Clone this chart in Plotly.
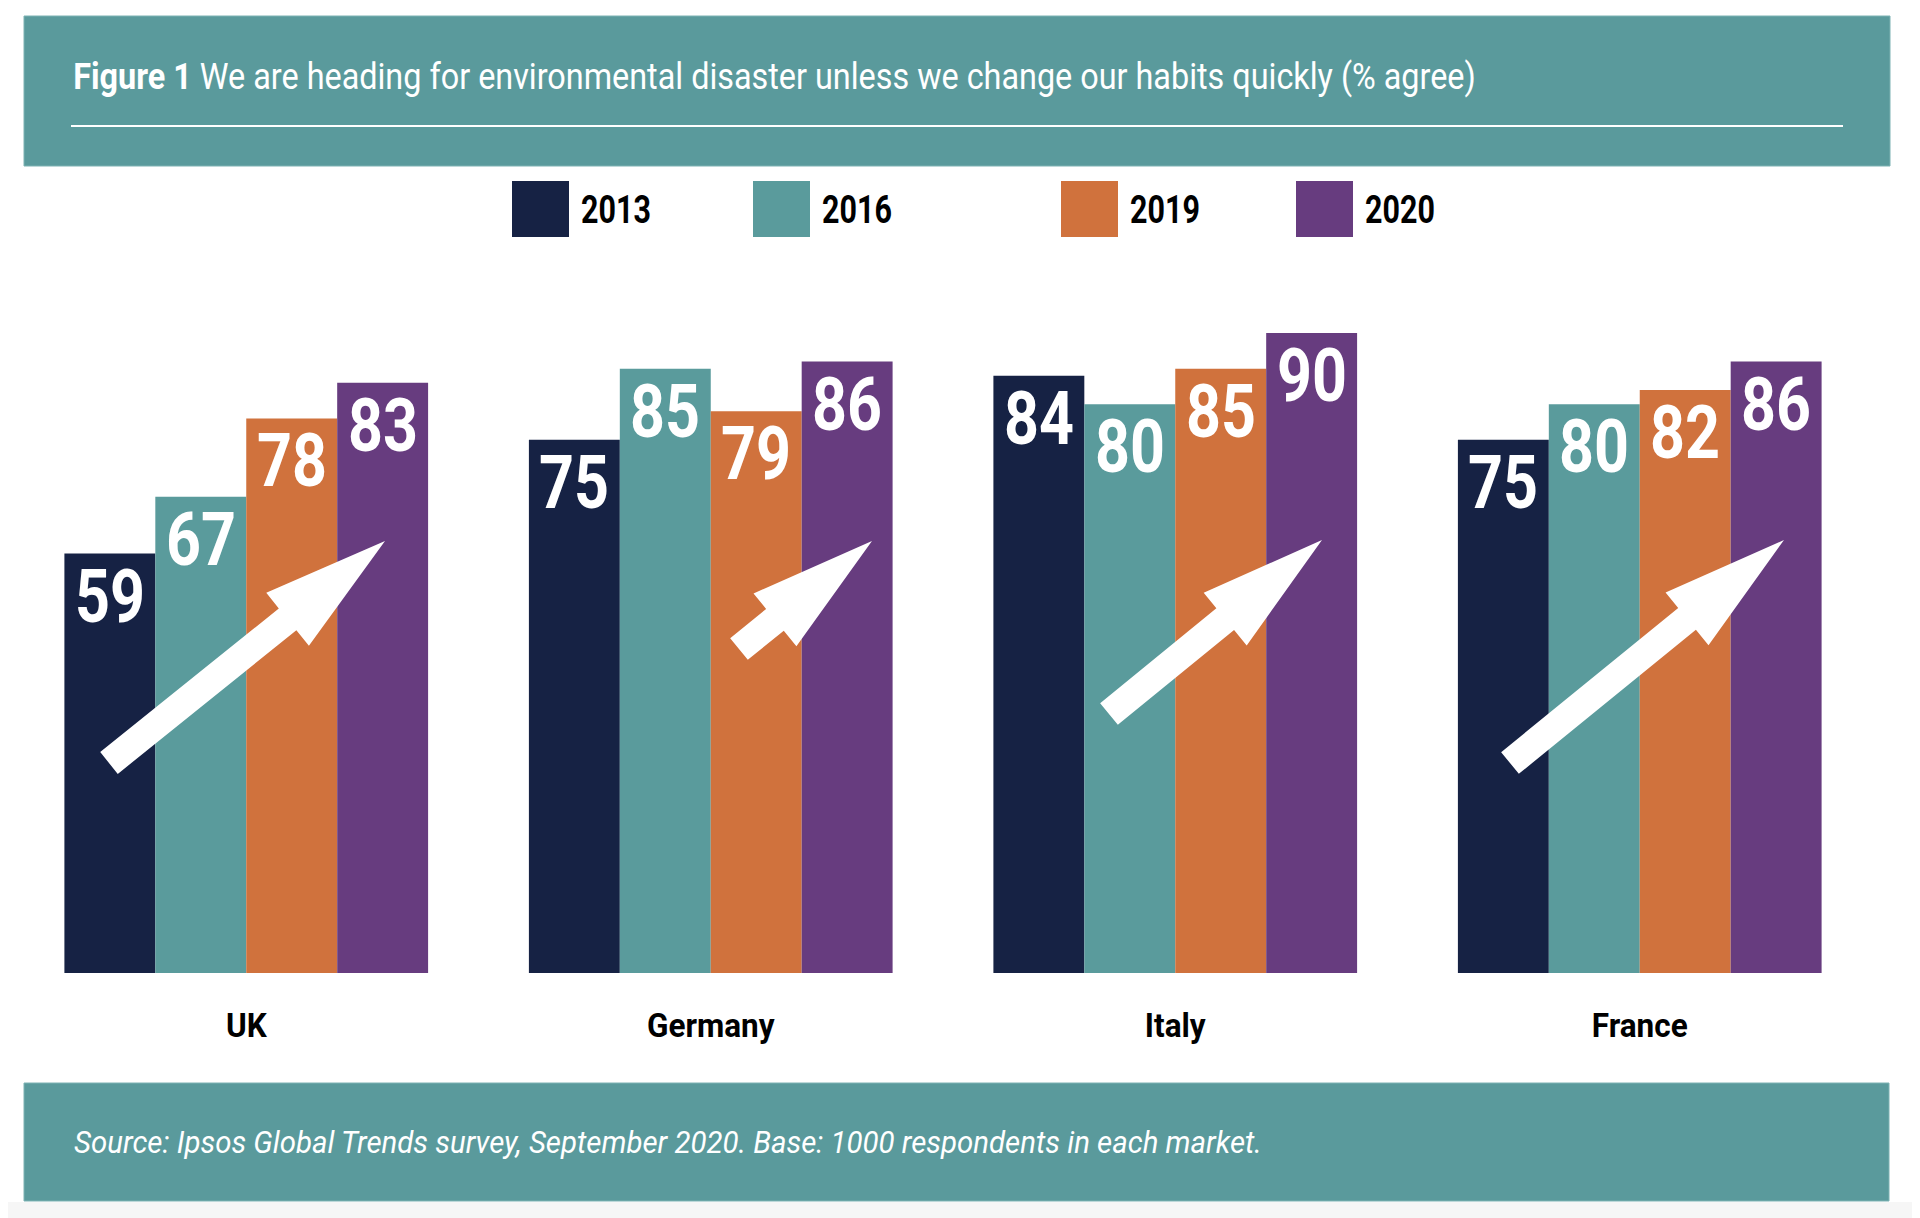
import json
import math
import plotly.graph_objects as go

# ---------------- data ----------------
countries = ["UK", "Germany", "Italy", "France"]
years = ["2013", "2016", "2019", "2020"]
v2013 = [59, 75, 84, 75]
v2016 = [67, 85, 80, 80]
v2019 = [78, 79, 85, 82]
v2020 = [83, 86, 90, 86]
series = [v2013, v2016, v2019, v2020]

title_bold = "Figure 1"
title_rest = "We are heading for environmental disaster unless we change our habits quickly (% agree)"
source_text = "Source: Ipsos Global Trends survey, September 2020. Base: 1000 respondents in each market."

# ---------------- styles / layout ----------------
colors = ["#162244", "#5A9B9C", "#D0723D", "#673C7F"]
TEAL = "#5A9A9C"
TEAL_EDGE = "#7DB2B3"
FONT = "Roboto, Liberation Sans, Arial, sans-serif"

W, H = 1920, 1218
OFF = 8                                # page body margin: screen px -> figure px
L, R, T, B = 14 - OFF, 1872 - OFF, 262 - OFF, 973 - OFF   # plot area (figure px)
YMAX = 100
BARGAP = 0.217
NSER = len(series)
BW = (1 - BARGAP) / NSER

# condensed look: target text widths (px) per text class, used to squeeze text horizontally
SQUEEZE_TARGET = {"value": 70.0, "legend": 70.0, "title": 1403.0, "source": 1188.0, "tick": 128.0}


def px2paper(sx, sy):
    px, py = sx - OFF, sy - OFF
    return (px - L) / (R - L), (B - py) / (B - T)


def px2data(sx, sy):
    px, py = sx - OFF, sy - OFF
    return -0.5 + (px - L) / (R - L) * len(countries), (B - py) / (B - T) * YMAX


fig = go.Figure()
for k, (yr, vals) in enumerate(zip(years, series)):
    fig.add_trace(go.Bar(
        x=list(range(len(countries))), y=vals, name=yr,
        marker=dict(color=colors[k], line=dict(width=0)),
        showlegend=False, hoverinfo="x+y",
    ))

annotations = []
ann_class = []   # [class, anchor-mode] per annotation
shapes = []

# value labels
for k, vals in enumerate(series):
    for i, v in enumerate(vals):
        annotations.append(dict(
            x=i + (k - (NSER - 1) / 2) * BW, y=v, xref="x", yref="y",
            text=str(v), showarrow=False, xanchor="center", yanchor="top",
            yshift=4,
            font=dict(family=FONT, size=75, color="white", weight="bold"),
        ))
        ann_class.append(["value", "center"])


def rect_px(x0, y0, x1, y1, color, layer="below", edge=None):
    a0, b0 = px2paper(x0, y0)
    a1, b1 = px2paper(x1, y1)
    line = dict(width=1, color=edge) if edge else dict(width=0)
    return dict(type="rect", xref="paper", yref="paper", x0=a0, y0=b1, x1=a1, y1=b0,
                fillcolor=color, line=line, layer=layer)


# page strip, banners (screen px)
shapes.append(rect_px(0, 1202, 1930, 1240, "#F6F6F6"))
shapes.append(rect_px(24, 16, 1890, 166, TEAL, edge=TEAL_EDGE))
shapes.append(rect_px(24, 1083, 1889, 1201, TEAL, edge=TEAL_EDGE))
ux0, uy = px2paper(71, 126)
ux1, _ = px2paper(1843, 126)
shapes.append(dict(type="line", xref="paper", yref="paper", x0=ux0, x1=ux1, y0=uy, y1=uy,
                   line=dict(color="white", width=2), layer="above"))

# title
tx, ty = px2paper(71, 77)
annotations.append(dict(
    x=tx, y=ty, xref="paper", yref="paper", xanchor="left", yanchor="middle",
    text=f"<b>{title_bold}</b> {title_rest}", showarrow=False,
    font=dict(family=FONT, size=37, color="white"),
))
ann_class.append(["title", "left"])

# source
sx, sy = px2paper(72, 1142)
annotations.append(dict(
    x=sx, y=sy, xref="paper", yref="paper", xanchor="left", yanchor="middle",
    text=f"<i>{source_text}</i>", showarrow=False,
    font=dict(family=FONT, size=32, color="white"),
))
ann_class.append(["source", "left"])

# legend (custom large swatches)
legend_sw_x = [512, 753, 1061, 1296]
for k, yr in enumerate(years):
    x0 = legend_sw_x[k]
    shapes.append(rect_px(x0, 181, x0 + 57, 237, colors[k], layer="above"))
    lx, ly = px2paper(x0 + 67, 210)
    annotations.append(dict(
        x=lx, y=ly, xref="paper", yref="paper", xanchor="left", yanchor="middle",
        text=yr, showarrow=False,
        font=dict(family=FONT, size=38, color="black", weight="bold"),
    ))
    ann_class.append(["legend", "left"])

# decorative white arrows (tail centre, tip) in screen pixels
arrow_geom = [((109, 763), (385, 541)),
              ((739, 649), (872, 541)),
              ((1109, 714), (1322, 540)),
              ((1510, 763), (1784, 540))]
SHAFT_HW, HEAD_HW, HEAD_LEN = 14, 34, 125
for (tx0, ty0), (tx1, ty1) in arrow_geom:
    dx, dy = tx1 - tx0, ty1 - ty0
    ln = math.hypot(dx, dy)
    ux, uy_ = dx / ln, dy / ln
    nx, ny = -uy_, ux
    bx, by = tx1 - ux * HEAD_LEN, ty1 - uy_ * HEAD_LEN
    pts = [
        (tx0 + nx * SHAFT_HW, ty0 + ny * SHAFT_HW),
        (bx + nx * SHAFT_HW, by + ny * SHAFT_HW),
        (bx + nx * HEAD_HW, by + ny * HEAD_HW),
        (tx1, ty1),
        (bx - nx * HEAD_HW, by - ny * HEAD_HW),
        (bx - nx * SHAFT_HW, by - ny * SHAFT_HW),
        (tx0 - nx * SHAFT_HW, ty0 - ny * SHAFT_HW),
    ]
    dpts = [px2data(px, py) for px, py in pts]
    path = "M " + " L ".join(f"{a:.4f},{b:.4f}" for a, b in dpts) + " Z"
    shapes.append(dict(type="path", xref="x", yref="y", path=path,
                       fillcolor="white", line=dict(width=0), layer="above"))

fig.update_layout(
    width=W, height=H,
    margin=dict(l=L, r=W - R, t=T, b=H - B, pad=0),
    paper_bgcolor="white", plot_bgcolor="white",
    barmode="group", bargap=BARGAP, bargroupgap=0,
    xaxis=dict(range=[-0.5, len(countries) - 0.5], tickvals=list(range(len(countries))),
               ticktext=countries, showgrid=False, zeroline=False, showline=False,
               ticks="", ticklabelstandoff=30,
               tickfont=dict(family=FONT, size=33, color="black", weight="bold")),
    yaxis=dict(range=[0, YMAX], visible=False, showgrid=False, zeroline=False),
    annotations=annotations, shapes=shapes,
    font=dict(family=FONT),
    hovermode=False,
)

post_script = """
(function(){
  try {
    var gd = document.querySelector('.js-plotly-plot');
    var CLS = %s;
    var TARGET = %s;
    var TICK_REF = %s;
    function squeeze(el, s, mode){
      var bb = el.getBBox();
      var ax = (mode === 'left') ? bb.x : bb.x + bb.width / 2;
      var t = el.getAttribute('transform') || '';
      el.setAttribute('transform', t + ' translate(' + ax + ',0) scale(' + s + ',1) translate(' + (-ax) + ',0)');
    }
    var groups = {};
    gd.querySelectorAll('g.annotation').forEach(function(g){
      var i = +g.getAttribute('data-index');
      var txt = g.querySelector('text.annotation-text');
      if (!txt || !CLS[i]) return;
      var c = CLS[i][0];
      groups[c] = groups[c] || [];
      groups[c].push([txt, CLS[i][1], txt.getBBox().width]);
    });
    Object.keys(groups).forEach(function(c){
      var items = groups[c];
      var mean = 0;
      items.forEach(function(it){ mean += it[2]; });
      mean /= items.length;
      var s = Math.min(1, TARGET[c] / mean);
      items.forEach(function(it){ squeeze(it[0], s, it[1]); });
    });
    var ticks = gd.querySelectorAll('g.xtick text');
    var sT = 1;
    ticks.forEach(function(t){ if (t.textContent === TICK_REF) sT = Math.min(1, TARGET['tick'] / t.getBBox().width); });
    ticks.forEach(function(t){ squeeze(t, sT, 'center'); });
  } catch (e) { console.log(e); }
})();
""" % (json.dumps(ann_class), json.dumps(SQUEEZE_TARGET), json.dumps("Germany"))

fig.write_html("out.html", post_script=post_script)
